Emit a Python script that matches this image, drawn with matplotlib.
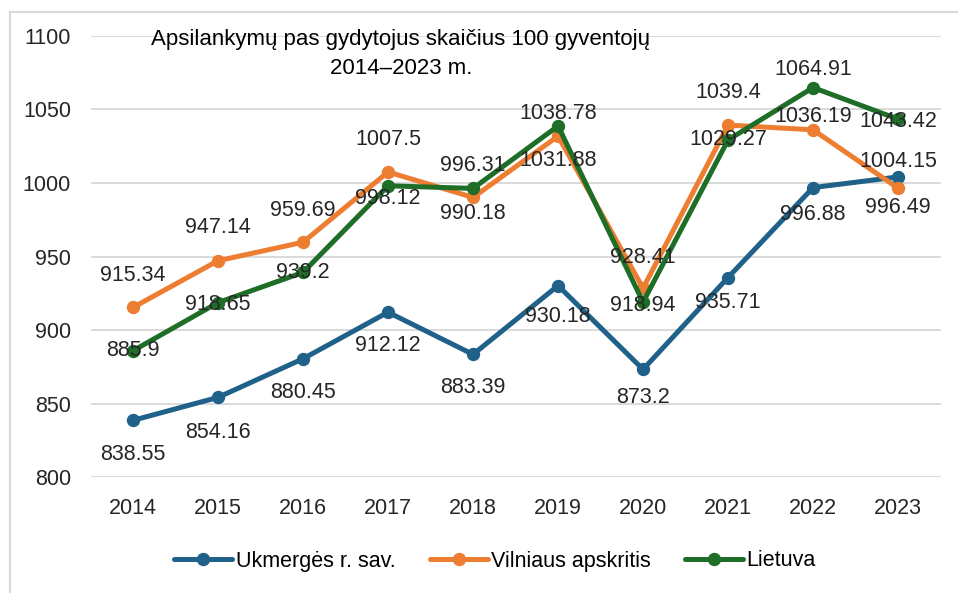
import matplotlib
matplotlib.use("Agg")
from matplotlib import pyplot as plt
from matplotlib.patches import Rectangle
import numpy as np

years = ["2014", "2015", "2016", "2017", "2018", "2019", "2020", "2021", "2022", "2023"]
ukmerges = [838.55, 854.16, 880.45, 912.12, 883.39, 930.18, 873.2, 935.71, 996.88, 1004.15]
vilniaus = [915.34, 947.14, 959.69, 1007.5, 990.18, 1031.88, 928.41, 1039.4, 1036.19, 996.49]
lietuva = [885.9, 918.65, 939.2, 998.12, 996.31, 1038.78, 918.94, 1029.27, 1064.91, 1043.42]

names = ["Ukmergės r. sav.", "Vilniaus apskritis", "Lietuva"]
colors = ["#1F6188", "#ED7D31", "#1E6E28"]

# label offsets (pixels, + is down) for each data label
ukm_dy = [34, 35, 34, 33, 33, 31, 28, 25, 27, -15]
vil_dy = [-32, -33, -32, -32, 16, 24, -31, -33, -13, 19]
lie_dy = [0, 2, 0, 13, -23, -12, 3, 0, -18, 2]

plt.rcParams["font.family"] = ["Liberation Sans Narrow", "Liberation Sans", "DejaVu Sans"]
fs = 15.5

fig = plt.figure(figsize=(9.58, 5.93), dpi=100)
ax = fig.add_axes([0.0945, 0.1956, 0.8873, 0.7437])

# outer chart border
fig.patches.append(Rectangle((10 / 958, -0.1), 1.2, 1 - 12 / 593 + 0.1,
                             transform=fig.transFigure, fill=False,
                             edgecolor="#d9d9d9", linewidth=1.5))

x = np.arange(len(years))
for vals, c, name in zip([ukmerges, vilniaus, lietuva], colors, names):
    ax.plot(x, vals, color=c, lw=3.6, marker="o", ms=8.6, label=name,
            solid_capstyle="round", zorder=3)

for vals, dys in zip([ukmerges, vilniaus, lietuva], [ukm_dy, vil_dy, lie_dy]):
    for xi, v, dy in zip(x, vals, dys):
        ax.annotate(f"{v:g}", (xi, v), xytext=(0, -dy * 0.72), textcoords="offset points",
                    ha="center", va="center", fontsize=fs, color="#262626", zorder=5)

ax.set_xlim(-0.5, len(years) - 0.5)
ax.set_ylim(800, 1100)
ax.set_yticks(np.arange(800, 1101, 50))
ax.set_xticks(x)
ax.set_xticklabels(years)
ax.tick_params(axis="both", length=0, labelsize=fs, colors="#262626")
ax.tick_params(axis="y", pad=14)
ax.tick_params(axis="x", pad=15)
ax.grid(axis="y", color="#d9d9d9", lw=1.4)
ax.set_axisbelow(True)
for s in ax.spines.values():
    s.set_visible(False)

ax.text(0.365, 0.96, "Apsilankymų pas gydytojus skaičius 100 gyventojų\n2014–2023 m.",
        transform=ax.transAxes, ha="center", va="center", fontsize=16,
        linespacing=1.5, color="black")

ax.legend(loc="center", bbox_to_anchor=(495 / 958, 1 - 561 / 593), bbox_transform=fig.transFigure,
          ncol=3, frameon=False, fontsize=fs, handlelength=2.7, handletextpad=0.15,
          columnspacing=1.6)

fig.savefig("out.png", dpi=100)
